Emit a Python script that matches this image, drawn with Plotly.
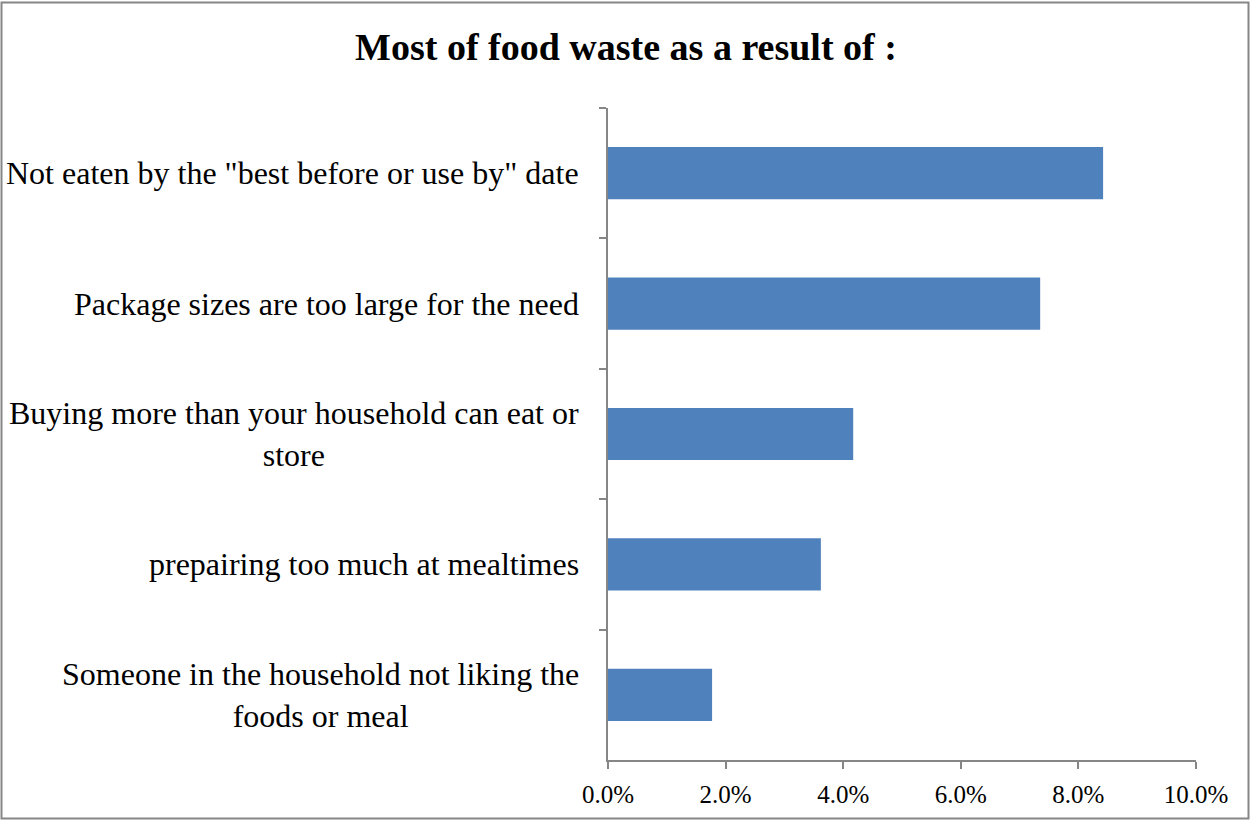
import plotly.graph_objects as go

categories = [
    'Not eaten by the "best before or use by" date',
    'Package sizes are too large for the need',
    'Buying more than your household can eat or<br>store',
    'prepairing too much at mealtimes',
    'Someone in the household not liking the<br>foods or meal',
]
values = [0.0842, 0.0735, 0.0417, 0.0362, 0.0177]
x_ticks = [0, 0.02, 0.04, 0.06, 0.08, 0.10]
title = "Most of food waste as a result of :"

FONT = "Liberation Serif, Times New Roman, serif"
W, H = 1250, 821
L, R, T, B = 608, 54, 108, 61
pw, ph = W - L - R, H - T - B

fig = go.Figure(go.Bar(
    x=values, y=categories, orientation="h",
    marker=dict(color="#4F81BD", line=dict(width=0)),
    width=0.4,
))

for c in categories:
    fig.add_annotation(
        x=-27 / pw, xref="paper", y=c, yref="y",
        text=c, showarrow=False, xanchor="right", yanchor="middle",
        align="center", font=dict(family=FONT, size=32, color="black"),
    )

fig.add_shape(
    type="rect", xref="paper", yref="paper",
    x0=(1.5 - L) / pw, x1=(W - 1.5 - L) / pw,
    y0=(T + ph - (H - 2.5)) / ph, y1=(T + ph - 2.5) / ph,
    line=dict(color="#868686", width=2), fillcolor="rgba(0,0,0,0)",
)

fig.update_layout(
    width=W, height=H,
    margin=dict(l=L, r=R, t=T, b=B),
    paper_bgcolor="white", plot_bgcolor="white",
    showlegend=False,
    title=dict(text="<b>" + title + "</b>", x=626 / W, xref="container", xanchor="center",
               y=1 - 47 / H, yref="container", yanchor="middle",
               font=dict(family=FONT, size=38, color="black")),
    font=dict(family=FONT, size=25, color="black"),
)
fig.update_xaxes(
    range=[0, 0.1], tickvals=x_ticks, tickformat=".1%",
    showgrid=False, zeroline=False,
    showline=True, linecolor="#868686", linewidth=1.5,
    ticks="outside", ticklen=7, tickcolor="#868686", tickwidth=1.5,
    ticklabelstandoff=4,
    tickfont=dict(family=FONT, size=25, color="black"),
)
fig.update_yaxes(
    autorange="reversed", showgrid=False, zeroline=False,
    showline=True, linecolor="#868686", linewidth=1.5,
    ticks="outside", ticklen=7, tickcolor="#868686", tickwidth=1.5,
    tickson="boundaries", showticklabels=False,
)

fig.write_html("out.html", config={"displayModeBar": False},
               post_script="document.body.style.margin='0';document.body.style.overflow='hidden';")
